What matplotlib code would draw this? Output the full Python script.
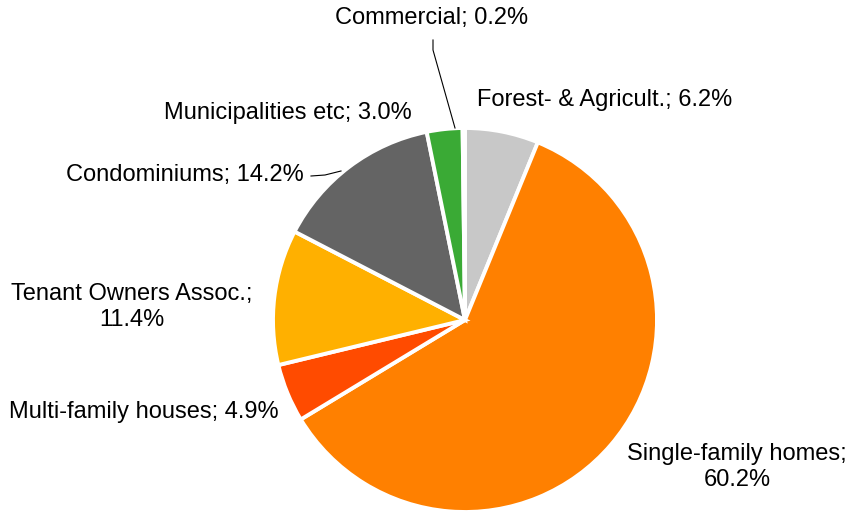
import matplotlib
matplotlib.use("Agg")
import matplotlib.pyplot as plt

categories = ["Forest- & Agricult.", "Single-family homes", "Multi-family houses",
              "Tenant Owners Assoc.", "Condominiums", "Municipalities etc", "Commercial"]
values = [6.2, 60.2, 4.9, 11.4, 14.2, 3.0, 0.2]
colors = ["#C8C8C8", "#FF8000", "#FF4B00", "#FFB000", "#646464", "#3AAA35", "#F0F0F0"]

plt.rcParams['font.family'] = ['Liberation Sans', 'DejaVu Sans']

W, H = 853, 511
fig = plt.figure(figsize=(W/100, H/100), dpi=100)
ax = fig.add_axes([0, 0, 1, 1])
ax.set_xlim(0, W)
ax.set_ylim(0, H)
ax.set_aspect('equal')
ax.axis('off')

cx, cy, r = 465, H - 320, 192
wedges, _ = ax.pie(values, colors=colors, startangle=90, counterclock=False,
                   center=(cx, cy), radius=r,
                   wedgeprops=dict(edgecolor='white', linewidth=2.8))
ax.set_xlim(0, W)
ax.set_ylim(0, H)

fs = 17
def lab(txt, x, y, ha='center'):
    ax.text(x, H - y, txt, fontsize=fs, ha=ha, va='center', color='#000000',
            linespacing=1.25)

# label positions (pixel coords from top)
lab(f"{categories[6]}; {values[6]:.1f}%", 432, 18)
lab(f"{categories[0]}; {values[0]:.1f}%", 605, 100)
lab(f"{categories[5]}; {values[5]:.1f}%", 288, 113)
lab(f"{categories[4]}; {values[4]:.1f}%", 185, 175)
lab(f"{categories[3]};\n{values[3]:.1f}%", 132, 307)
lab(f"{categories[2]}; {values[2]:.1f}%", 144, 412)
lab(f"{categories[1]};\n{values[1]:.1f}%", 737, 467)

# leader lines
ax.plot([433, 433, 455], [H-40, H-50, H-128], color='black', lw=0.8)
ax.plot([311, 325, 341], [H-176, H-175, H-171], color='black', lw=0.8)

fig.savefig("out.png", dpi=100)
